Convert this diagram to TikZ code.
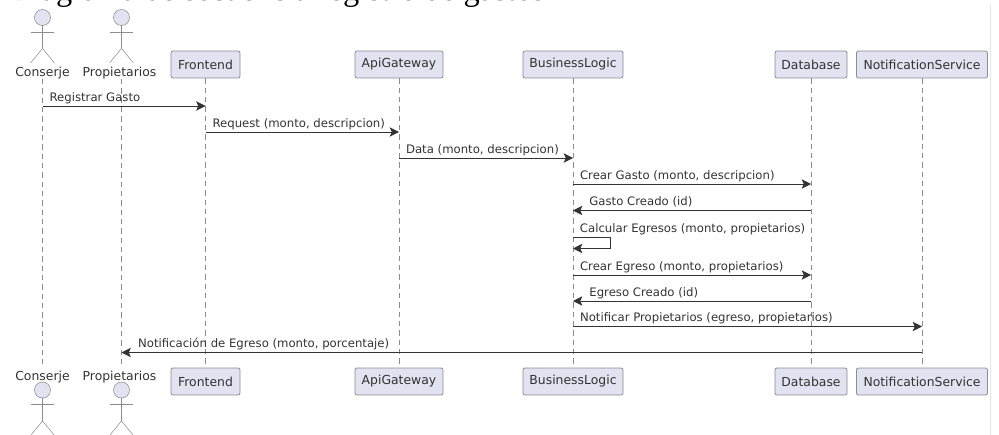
\documentclass[tikz,border=0pt]{standalone}
\usepackage{fontspec}
\setmainfont{DejaVu Sans}
\newfontfamily\titlefont{Liberation Serif}
\usetikzlibrary{positioning,calc,arrows.meta}
\definecolor{boxfill}{HTML}{E2E2F0}
\definecolor{boxline}{HTML}{8C8C94}
\definecolor{inkline}{HTML}{333333}
\definecolor{lifeline}{HTML}{8A8A8A}
\tikzset{
    actorman/.pic={
        \draw[boxline, fill=boxfill] (0,0) circle (8);
        \draw[boxline] (0,-8) -- (0,-31);
        \draw[boxline] (-11.5,-14.5) -- (11.5,-14.5);
        \draw[boxline] (-12,-45.5) -- (0,-31) -- (12,-45.5);
    }
}
\begin{document}
\begin{tikzpicture}[x=0.75pt, y=0.75pt, font=\fontsize{8.77pt}{10pt}\selectfont, text=inkline,
        block/.style={draw=boxline, fill=boxfill, rounded corners=1.5pt, minimum height=20.25pt, inner xsep=0pt, inner ysep=0pt, line width=0.6pt, font=\fontsize{9.3pt}{10pt}\selectfont},
        actorlbl/.style={inner sep=0pt, text height=9pt, text depth=2pt, font=\fontsize{9.3pt}{10pt}\selectfont},
        life/.style={draw=lifeline, dash pattern=on 4pt off 3pt, line width=0.45pt},
        msg/.style={draw=inkline, line width=0.6pt, -{Stealth[inset=1.6pt, length=7pt, width=7pt]}},
        lbl/.style={anchor=south west, inner sep=0pt, text height=7pt, text depth=2pt, yshift=1.2pt}
    ]
        \useasboundingbox (0,0) rectangle (999,-435);

        % Title, cut by the top edge
        \node [anchor=base west, inner sep=0pt, text=black, font=\titlefont\fontsize{24.3pt}{26pt}\selectfont] (title) at (9,-0.3) {Diagrama de secuencia registro de gastos};

        % Top row
        \node [actorlbl] (con) at (42.5,-71.35) {Conserje};
        \node [actorlbl] (pro) at (119.5,-71.35) {Propietarios};
        \node [block, minimum width=51.75pt] (fro) at (205.5,-64.5) {Frontend};
        \node [block, minimum width=66pt] (api) at (399,-64.5) {ApiGateway};
        \node [block, minimum width=75pt] (bus) at (573,-64.5) {BusinessLogic};
        \node [block, minimum width=54pt] (dat) at (811,-64.5) {Database};
        \node [block, minimum width=98.25pt] (not) at (922,-64.5) {NotificationService};
        \coordinate (proline) at (121.5,0);
        \pic at (42.5,-17.5) {actorman};
        \pic at (121.5,-17.5) {actorman};

        % Bottom row
        \node [actorlbl] (con2) at (42.5,-375.35) {Conserje};
        \node [actorlbl] (pro2) at (119.5,-375.35) {Propietarios};
        \node [block, minimum width=51.75pt] (fro2) at (205.5,-381.5) {Frontend};
        \node [block, minimum width=66pt] (api2) at (399,-381.5) {ApiGateway};
        \node [block, minimum width=75pt] (bus2) at (573,-381.5) {BusinessLogic};
        \node [block, minimum width=54pt] (dat2) at (811,-381.5) {Database};
        \node [block, minimum width=98.25pt] (not2) at (922,-381.5) {NotificationService};
        \pic at (42.5,-390) {actorman};
        \pic at (121.5,-390) {actorman};

        % Lifelines
        \draw[life] (con) -- (con2);
        \draw[life] (proline |- pro.south) -- (proline |- pro2.north);
        \draw[life] (fro) -- (fro2);
        \draw[life] (api) -- (api2);
        \draw[life] (bus) -- (bus2);
        \draw[life] (dat) -- (dat2);
        \draw[life] (not) -- (not2);

        % Rows of the messages
        \coordinate (r1) at (0,-106);
        \coordinate (r2) at (0,-132);
        \coordinate (r3) at (0,-158);
        \coordinate (r4) at (0,-184);
        \coordinate (r5) at (0,-210.5);
        \coordinate (r6) at (0,-237);
        \coordinate (r6b) at (0,-248.5);
        \coordinate (r7) at (0,-275);
        \coordinate (r8) at (0,-301);
        \coordinate (r9) at (0,-326.5);
        \coordinate (r10) at (0,-352.5);
        \coordinate (loopx) at (610.5,0);

        % Messages
        \draw[msg] (con |- r1) -- (fro |- r1) node[lbl, pos=0, xshift=5pt] (m1) {Registrar Gasto};
        \draw[msg] (fro |- r2) -- (api |- r2) node[lbl, pos=0, xshift=5pt] (m2) {Request (monto, descripcion)};
        \draw[msg] (api |- r3) -- (bus |- r3) node[lbl, pos=0, xshift=5pt] (m3) {Data (monto, descripcion)};
        \draw[msg] (bus |- r4) -- (dat |- r4) node[lbl, pos=0, xshift=5pt] (m4) {Crear Gasto (monto, descripcion)};
        \draw[msg] (dat |- r5) -- (bus |- r5) node[lbl, pos=1, xshift=12pt] (m5) {Gasto Creado (id)};
        \draw[msg] (bus |- r6) -- (loopx |- r6) -- (loopx |- r6b) -- (bus |- r6b);
        \node[lbl, xshift=5pt] (m6) at (bus |- r6) {Calcular Egresos (monto, propietarios)};
        \draw[msg] (bus |- r7) -- (dat |- r7) node[lbl, pos=0, xshift=5pt] (m7) {Crear Egreso (monto, propietarios)};
        \draw[msg] (dat |- r8) -- (bus |- r8) node[lbl, pos=1, xshift=12pt] (m8) {Egreso Creado (id)};
        \draw[msg] (bus |- r9) -- (not |- r9) node[lbl, pos=0, xshift=5pt] (m9) {Notificar Propietarios (egreso, propietarios)};
        \draw[msg, line width=0.9pt] (not |- r10) -- (proline |- r10) node[lbl, pos=1, xshift=12pt] (m10) {Notificación de Egreso (monto, porcentaje)};

        % Edge of the sheet on the right
        \draw[black!10, line width=0.5pt] (990.5,-5) -- (990.5,-435);
    \end{tikzpicture}
\end{document}
